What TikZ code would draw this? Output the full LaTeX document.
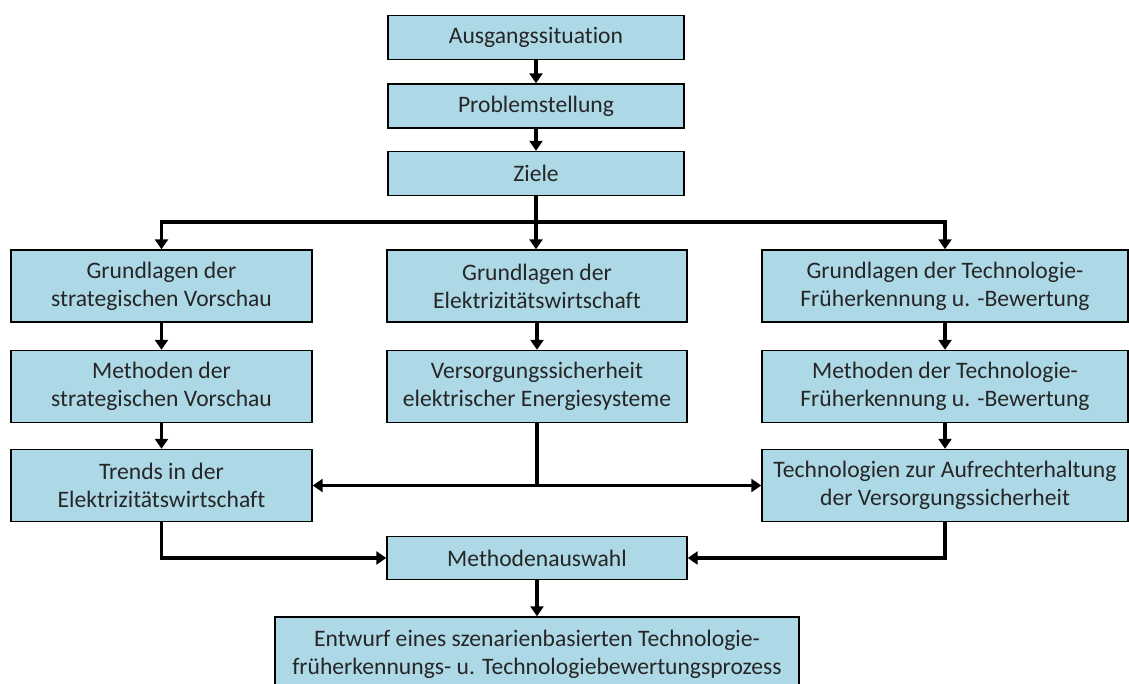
\documentclass[tikz,border=0pt]{standalone}
\usepackage{fontspec}
\setmainfont{Carlito}[Ligatures=NoCommon]
\usepackage[HTML]{xcolor}
\usetikzlibrary{positioning, arrows.meta}

\definecolor{boxblue}{HTML}{ADD8E6}

\tikzset{
  box/.style={draw=black, line width=0.7pt, fill=boxblue, align=center,
    inner sep=0pt, text=black!85, font=\fontsize{11.8}{14}\selectfont},
  flow/.style={-{Triangle[length=5pt,width=6.5pt]}, line width=1.6pt},
  link/.style={line width=1.6pt},
}

\begin{document}
\begin{tikzpicture}[x=0.5pt,y=-0.5pt]
\useasboundingbox (0,0) rectangle (1129,684);
\clip (0,0) rectangle (1129,684);

\node[box, minimum width=148pt, minimum height=22pt] (aus)   at (536,37.5) {Ausgangssituation};
\node[box, minimum width=148pt, minimum height=22pt] (prob)  at (536,106)  {Problemstellung};
\node[box, minimum width=148pt, minimum height=22pt] (ziele) at (536,173.5){Ziele};

\node[box, minimum width=150.5pt, minimum height=36pt] (gl1) at (161.5,286)   {Grundlagen der\\strategischen Vorschau};
\node[box, minimum width=150.5pt, minimum height=36pt] (me1) at (161.5,386.5) {Methoden der\\strategischen Vorschau};
\node[box, minimum width=150.5pt, minimum height=36pt] (tr1) at (161.5,485.5) {Trends in der\\Elektrizitätswirtschaft};

\node[box, minimum width=150pt, minimum height=36pt] (gl2) at (537,286)   {Grundlagen der\\Elektrizitätswirtschaft};
\node[box, minimum width=150pt, minimum height=36pt] (vs2) at (537,386.5) {Versorgungssicherheit\\elektrischer Energiesysteme};

\node[box, minimum width=183pt, minimum height=36pt] (gl3) at (945,286)   {Grundlagen der Technologie-\\Früherkennung u. -Bewertung};
\node[box, minimum width=183pt, minimum height=36pt] (me3) at (945,386.5) {Methoden der Technologie-\\Früherkennung u. -Bewertung};
\node[box, minimum width=183pt, minimum height=36pt] (tr3) at (945,485.5) {Technologien zur Aufrechterhaltung\\der Versorgungssicherheit};

\node[box, minimum width=150pt, minimum height=21.5pt] (mw) at (537,558) {Methodenauswahl};
\node[box, minimum width=262pt, minimum height=37pt] (ent) at (537,654) {Entwurf eines szenarienbasierten Technologie-\\früherkennungs- u. Technologiebewertungsprozess};

% top chain
\draw[flow] (aus) -- (prob);
\draw[flow] (prob) -- (ziele);

% split into three columns
\coordinate (split) at (536,222);
\draw[link] (ziele.south) -- (split);
\draw[flow] (split) -| (gl1.north);
\draw[flow] (split) -- (gl2.north -| split);
\draw[flow] (split) -| (gl3.north);

% columns
\draw[flow] (gl1) -- (me1);
\draw[flow] (me1) -- (tr1);
\draw[flow] (gl2) -- (vs2);
\draw[flow] (gl3) -- (me3);
\draw[flow] (me3) -- (tr3);

% middle column feeds both sides
\coordinate (join) at (vs2.south |- tr1.east);
\draw[link] (vs2.south) -- (join);
\draw[flow] (join) -- (tr1.east);
\draw[flow] (join) -- (tr3.west);

% merge
\draw[flow] (tr1.south) |- (mw.west);
\draw[flow] (tr3.south) |- (mw.east);
\draw[flow] (mw) -- (ent);
\end{tikzpicture}
\end{document}
